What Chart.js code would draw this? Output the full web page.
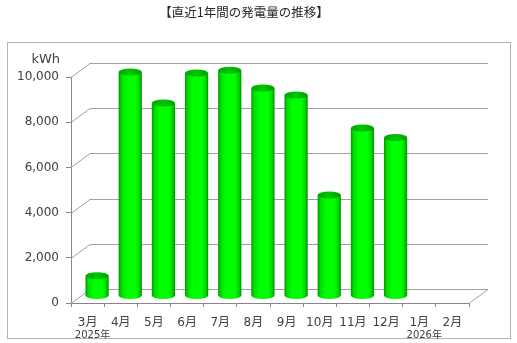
<!DOCTYPE html>
<html>
<head>
<meta charset="utf-8">
<script src="https://cdn.jsdelivr.net/npm/chart.js@4.4.1/dist/chart.umd.min.js"></script>
<style>
  body { margin: 0; background: #fff; }
  canvas { display: block; }
</style>
</head>
<body>
<canvas id="grafico-generacion" width="517" height="343"></canvas>
<script>
// Datos del gráfico
const meses = ['3月', '4月', '5月', '6月', '7月', '8月', '9月', '10月', '11月', '12月', '1月', '2月'];
const anios = ['2025年', '', '', '', '', '', '', '', '', '', '2026年', ''];
const generacion = [900, 9910, 8540, 9870, 9990, 9200, 8890, 4470, 7430, 7010, null, null];
const ticksY = [0, 2000, 4000, 6000, 8000, 10000];
const titulo = '【直近1年間の発電量の推移】';
const unidad = 'kWh';

// profundidad de la caja 3D (px)
const PROF_X = 19;
const PROF_Y = 14;
const FUENTE = "'DejaVu Sans', 'Noto Sans CJK JP', sans-serif";
const GRIS = '#a0a0a0';

document.addEventListener('DOMContentLoaded', function() {
  crearGrafico();
});

// Cilindro verde con tapa elíptica
function dibujarCilindro(ctx, cx, top, base, w) {
  const rx = w / 2, ry = 3.5;
  const grad = ctx.createLinearGradient(cx - rx, 0, cx + rx, 0);
  grad.addColorStop(0, '#009a00');
  grad.addColorStop(0.12, '#00dc00');
  grad.addColorStop(0.35, '#00ff00');
  grad.addColorStop(0.72, '#00ff00');
  grad.addColorStop(0.9, '#00d400');
  grad.addColorStop(1, '#008c00');
  ctx.fillStyle = grad;
  ctx.beginPath();
  ctx.moveTo(cx - rx, top);
  ctx.lineTo(cx - rx, base);
  ctx.ellipse(cx, base, rx, ry, 0, Math.PI, 0, true);
  ctx.lineTo(cx + rx, top);
  ctx.closePath();
  ctx.fill();

  const gradTapa = ctx.createLinearGradient(cx - rx, 0, cx + rx, 0);
  gradTapa.addColorStop(0, '#00a800');
  gradTapa.addColorStop(0.5, '#00c400');
  gradTapa.addColorStop(1, '#00a000');
  ctx.fillStyle = gradTapa;
  ctx.beginPath();
  ctx.ellipse(cx, top, rx, ry, 0, 0, Math.PI * 2);
  ctx.fill();
}

const caja3D = {
  id: 'caja3D',
  beforeDraw(chart) {
    const ctx = chart.ctx;
    ctx.save();
    ctx.fillStyle = '#fff';
    ctx.fillRect(0, 0, chart.width, chart.height);
    ctx.strokeStyle = '#b4b4b4';
    ctx.lineWidth = 1;
    ctx.strokeRect(7.5, 42.5, 503, 296);
    // título y unidad
    ctx.fillStyle = '#262626';
    ctx.textAlign = 'center';
    ctx.textBaseline = 'middle';
    ctx.font = "12.5px 'Noto Sans CJK JP', sans-serif";
    ctx.fillText(titulo, 244, 12);
    ctx.fillStyle = '#404040';
    ctx.textAlign = 'right';
    ctx.font = '13px ' + FUENTE;
    ctx.fillText(unidad, 60, 60);
    ctx.restore();
  },
  beforeDatasetsDraw(chart) {
    const ctx = chart.ctx, a = chart.chartArea, y = chart.scales.y;
    ctx.save();
    ctx.strokeStyle = GRIS;
    ctx.lineWidth = 1;
    ticksY.forEach(function(v) {
      const py = Math.round(y.getPixelForValue(v)) + 0.5;
      ctx.beginPath();
      ctx.moveTo(a.left, py);
      ctx.lineTo(a.left + PROF_X, py - PROF_Y);
      ctx.lineTo(a.right + PROF_X, py - PROF_Y);
      ctx.stroke();
    });
    // borde derecho del piso
    const pb = Math.round(a.bottom) + 0.5;
    ctx.beginPath();
    ctx.moveTo(a.right, pb);
    ctx.lineTo(a.right + PROF_X, pb - PROF_Y);
    ctx.stroke();
    ctx.restore();
  },
  afterDatasetsDraw(chart) {
    const ctx = chart.ctx;
    const meta = chart.getDatasetMeta(0);
    ctx.save();
    meta.data.forEach(function(bar, i) {
      if (generacion[i] == null) return;
      const p = bar.getProps(['x', 'y', 'base', 'width'], true);
      dibujarCilindro(ctx, p.x + PROF_X / 2, p.y - PROF_Y / 2, p.base - PROF_Y / 2, p.width);
    });
    ctx.restore();
  }
};

function crearGrafico() {
  const ctx = document.getElementById('grafico-generacion').getContext('2d');
  new Chart(ctx, {
    type: 'bar',
    data: {
      labels: meses,
      datasets: [{
        label: '発電量',
        data: generacion,
        backgroundColor: 'rgba(0,0,0,0)',
        barPercentage: 0.7,
        categoryPercentage: 1
      }]
    },
    options: {
      responsive: false,
      animation: false,
      layout: { padding: { top: 77, right: 48, left: 0, bottom: 0 } },
      plugins: {
        legend: { display: false },
        tooltip: { enabled: false }
      },
      scales: {
        y: {
          min: 0,
          max: 10000,
          ticks: {
            stepSize: 2000,
            padding: 7,
            color: '#404040',
            font: { family: FUENTE, size: 12 },
            callback: function(v) { return v.toLocaleString('en-US'); }
          },
          grid: { drawOnChartArea: false, tickLength: 5, color: '#868686' },
          border: { color: '#868686' },
          afterFit: function(s) { s.width = 71; }
        },
        x: {
          weight: 0,
          ticks: {
            padding: 9,
            color: '#404040',
            font: { family: FUENTE, size: 12 },
            maxRotation: 0,
            autoSkip: false
          },
          grid: { drawOnChartArea: false, tickLength: 4, color: '#868686' },
          border: { color: '#868686' },
          afterFit: function(s) { s.height = 24; }
        },
        x2: {
          type: 'category',
          labels: anios,
          position: 'bottom',
          weight: 1,
          offset: true,
          grid: { display: false },
          border: { display: false },
          ticks: {
            padding: -6,
            labelOffset: 5,
            color: '#404040',
            font: { family: FUENTE, size: 10 },
            maxRotation: 0,
            autoSkip: false
          },
          afterFit: function(s) { s.height = 16; }
        }
      }
    },
    plugins: [caja3D]
  });
}
</script>
</body>
</html>
